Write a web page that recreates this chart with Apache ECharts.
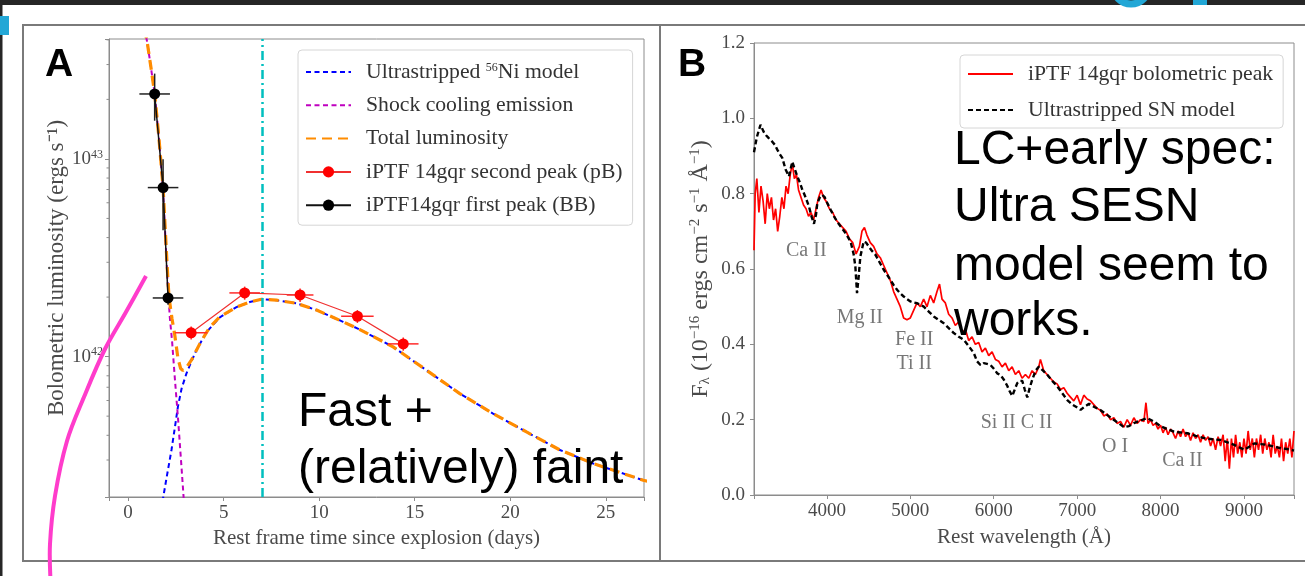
<!DOCTYPE html>
<html><head><meta charset="utf-8">
<script src="https://cdn.jsdelivr.net/npm/echarts@6/dist/echarts.min.js"></script>
<style>html,body{margin:0;padding:0;background:#fff;}#c{width:1305px;height:576px;}</style>
</head><body><div id="c"></div>
<script>
// ---------- Panel A: light curve ----------
const niT = [1.8, 2.0, 2.27, 2.45, 2.61, 2.8, 3.05, 3.3, 3.58, 4.1, 4.8, 5.67, 6.37, 6.98, 7.76, 8.81, 9.86, 11.25, 12.13, 13.87, 15.62, 17.36, 19.10, 20.85, 22.60, 24.34, 26.96, 27.2];
const niL = [1.85e41, 2.4e41, 3.37e41, 4.4e41, 5.6e41, 6.9e41, 8.2e41, 9.4e41, 1.08e42, 1.33e42, 1.58e42, 1.78e42, 1.89e42, 1.95e42, 1.93e42, 1.86e42, 1.72e42, 1.50e42, 1.37e42, 1.12e42, 8.53e41, 6.50e41, 5.15e41, 4.16e41, 3.37e41, 2.88e41, 2.37e41, 2.34e41];
const shockT = [0.85, 1.0, 1.2, 1.39, 1.6, 1.83, 2.05, 2.18, 2.3, 2.44, 2.61, 2.79, 2.92];
const shockL = [4.57e43, 3.89e43, 2.88e43, 2.14e43, 1.32e43, 6.95e42, 2.55e42, 1.59e42, 1.2e42, 7.9e41, 4.9e41, 2.8e41, 1.85e41];
const totalT = [0.85, 1.0, 1.2, 1.39, 1.6, 1.83, 2.05, 2.14, 2.3, 2.44, 2.61, 2.75, 2.87, 3.05, 3.31, 3.75, 4.27, 4.8, 5.67, 6.37, 6.98, 7.76, 8.81, 9.86, 11.25, 12.13, 13.87, 15.62, 17.36, 19.10, 20.85, 22.60, 24.34, 26.96, 27.2];
const totalL = [4.57e43, 3.89e43, 2.88e43, 2.14e43, 1.32e43, 7.16e42, 2.8e42, 2.0e42, 1.55e42, 1.29e42, 9.77e41, 8.71e41, 8.51e41, 8.81e41, 9.59e41, 1.16e42, 1.41e42, 1.59e42, 1.78e42, 1.89e42, 1.95e42, 1.93e42, 1.86e42, 1.72e42, 1.50e42, 1.37e42, 1.12e42, 8.53e41, 6.50e41, 5.15e41, 4.16e41, 3.37e41, 2.88e41, 2.37e41, 2.34e41];
const secondT = [3.3, 6.1, 9.0, 12.0, 14.4];
const secondL = [1.32e42, 2.10e42, 2.05e42, 1.60e42, 1.16e42];
const secondTErr = [0.85, 0.8, 0.7, 0.85, 0.8];
const secondLErr = [0.1e42, 0.16e42, 0.16e42, 0.12e42, 0.09e42];
const firstT = [1.39, 1.83, 2.09];
const firstL = [2.13e43, 7.16e42, 1.98e42];
const firstTErr = [0.8, 0.8, 0.8];
const firstLErr = [0.57e43, 2.8e42, 0.15e42];
const markerDay = [7.0];
const minorTickVals = [3e41, 4e41, 5e41, 6e41, 7e41, 8e41, 9e41, 2e42, 3e42, 4e42, 5e42, 6e42, 7e42, 8e42, 9e42, 2e43, 3e43, 4e43];

// ---------- Panel B: spectrum ----------
const specWave = [3126,3140,3160,3185,3210,3235,3260,3285,3310,3335,3360,3385,3410,3435,3460,3485,3510,3535,3560,3585,3610,3635,3660,3690,3720,3750,3780,3810,3840,3870,3900,3930,3960,3990,4030,4070,4110,4150,4190,4230,4270,4310,4350,4390,4420,4450,4480,4520,4560,4600,4640,4680,4720,4760,4800,4840,4880,4920,4960,5000,5040,5080,5120,5160,5200,5240,5280,5320,5350,5380,5420,5460,5500,5540,5580,5620,5660,5700,5740,5780,5820,5860,5900,5940,5980,6020,6060,6100,6140,6180,6220,6260,6300,6340,6380,6420,6460,6500,6540,6560,6600,6640,6680,6720,6760,6800,6840,6880,6920,6960,7000,7040,7080,7120,7160,7200,7240,7280,7320,7360,7400,7440,7480,7520,7560,7600,7640,7680,7720,7760,7800,7825,7850,7880,7910,7940,7970,8000,8030,8060,8090,8120,8150,8180,8210,8240,8270,8300,8330,8360,8390,8420,8450,8480,8510,8540,8570,8600,8630,8660,8690,8720,8750,8775,8800,8825,8850,8875,8900,8925,8950,8975,9000,9025,9050,9075,9100,9125,9150,9175,9200,9225,9250,9275,9300,9325,9350,9375,9400,9425,9450,9475,9500,9525,9550,9575,9600];
const specFlux = [0.65,0.80,0.84,0.75,0.82,0.78,0.72,0.80,0.76,0.79,0.73,0.76,0.70,0.74,0.79,0.76,0.82,0.80,0.85,0.88,0.84,0.85,0.81,0.79,0.77,0.76,0.74,0.75,0.73,0.76,0.79,0.81,0.79,0.78,0.76,0.75,0.73,0.72,0.71,0.70,0.68,0.67,0.64,0.66,0.70,0.71,0.69,0.67,0.66,0.64,0.63,0.61,0.59,0.57,0.54,0.52,0.50,0.47,0.465,0.47,0.49,0.51,0.50,0.52,0.50,0.53,0.51,0.54,0.56,0.52,0.51,0.48,0.47,0.45,0.46,0.43,0.44,0.41,0.42,0.40,0.405,0.38,0.39,0.37,0.38,0.36,0.355,0.34,0.35,0.33,0.34,0.32,0.33,0.31,0.32,0.31,0.33,0.32,0.34,0.36,0.33,0.32,0.31,0.30,0.295,0.28,0.285,0.27,0.26,0.25,0.265,0.24,0.265,0.255,0.25,0.24,0.23,0.225,0.21,0.215,0.20,0.205,0.19,0.195,0.18,0.20,0.185,0.205,0.19,0.20,0.195,0.245,0.19,0.20,0.185,0.19,0.175,0.185,0.165,0.18,0.16,0.175,0.165,0.15,0.17,0.155,0.175,0.155,0.165,0.145,0.165,0.15,0.16,0.14,0.16,0.145,0.155,0.13,0.15,0.12,0.155,0.13,0.16,0.09,0.15,0.07,0.15,0.10,0.16,0.11,0.14,0.10,0.15,0.11,0.17,0.12,0.15,0.10,0.15,0.12,0.16,0.11,0.15,0.12,0.14,0.10,0.16,0.11,0.13,0.10,0.15,0.09,0.14,0.11,0.15,0.10,0.17];
const modelWave = [3126,3160,3204,3240,3270,3300,3345,3375,3405,3435,3465,3505,3545,3585,3615,3645,3675,3705,3745,3785,3815,3845,3870,3885,3915,3945,3975,4005,4045,4085,4125,4165,4225,4285,4320,4341,4361,4381,4401,4441,4470,4501,4541,4581,4631,4681,4721,4761,4801,4841,4881,4921,4961,5001,5041,5081,5121,5161,5221,5281,5341,5401,5461,5521,5581,5641,5701,5761,5800,5841,5880,5920,5962,6002,6042,6082,6122,6162,6182,6222,6252,6282,6312,6342,6372,6402,6432,6462,6502,6542,6592,6642,6702,6762,6822,6882,6942,7002,7042,7092,7142,7212,7282,7362,7442,7502,7562,7622,7682,7762,7842,7922,8002,8082,8162,8242,8322,8422,8522,8622,8722,8802,8883,8950,9003,9063,9123,9203,9283,9363,9443,9520,9600];
const modelFlux = [0.91,0.95,0.983,0.965,0.955,0.948,0.938,0.93,0.917,0.905,0.895,0.864,0.846,0.885,0.865,0.846,0.83,0.811,0.79,0.766,0.74,0.72,0.745,0.775,0.79,0.797,0.79,0.775,0.757,0.740,0.725,0.713,0.695,0.672,0.64,0.607,0.536,0.580,0.633,0.673,0.67,0.660,0.648,0.638,0.618,0.598,0.585,0.571,0.557,0.545,0.535,0.527,0.52,0.514,0.511,0.509,0.505,0.500,0.487,0.474,0.465,0.456,0.443,0.430,0.42,0.412,0.395,0.377,0.355,0.345,0.35,0.348,0.345,0.335,0.323,0.318,0.306,0.29,0.279,0.263,0.28,0.297,0.303,0.303,0.28,0.259,0.285,0.306,0.33,0.341,0.33,0.319,0.303,0.288,0.27,0.252,0.24,0.232,0.226,0.235,0.242,0.233,0.225,0.212,0.199,0.19,0.18,0.183,0.191,0.198,0.204,0.195,0.182,0.175,0.168,0.166,0.164,0.157,0.151,0.148,0.146,0.14,0.133,0.126,0.120,0.128,0.137,0.135,0.133,0.128,0.124,0.122,0.118];
const lineIdNames = ['Ca II', 'Mg II', 'Fe II', 'Ti II', 'Si II C II', 'O I', 'Ca II'];
const lineIdWave = [3753, 4395, 5047, 5047, 6274, 7456, 8262];
const lineIdFlux = [0.648, 0.471, 0.412, 0.349, 0.191, 0.129, 0.090];

// ---------- styling ----------
const SERIF = 'Liberation Serif';
const AXC = '#8c8c8c';
const TXT = '#4a4a4a';
const NI = 'Ultrastripped 56Ni model';
const SHOCK = 'Shock cooling emission';
const TOTAL = 'Total luminosity';
const SECOND = 'iPTF 14gqr second peak (pB)';
const FIRST = 'iPTF14gqr first peak (BB)';
const OBS = 'iPTF 14gqr bolometric peak';
const MODEL = 'Ultrastripped SN model';

const zip = (a, b) => a.map((v, i) => [v, b[i]]);

function errRender(color) {
  return function (params, api) {
    const x = api.value(0), y = api.value(1), xe = api.value(2), ye = api.value(3);
    const a = api.coord([x - xe, y]), b = api.coord([x + xe, y]);
    const c = api.coord([x, y - ye]), d = api.coord([x, y + ye]);
    return { type: 'group', children: [
      { type: 'line', shape: { x1: a[0], y1: a[1], x2: b[0], y2: b[1] }, style: { stroke: color, lineWidth: 1.5 } },
      { type: 'line', shape: { x1: c[0], y1: c[1], x2: d[0], y2: d[1] }, style: { stroke: color, lineWidth: 1.5 } }
    ] };
  };
}

const axisCommon = {
  axisLine: { show: true, onZero: false, lineStyle: { color: AXC, width: 1 } },
  axisTick: { show: true, inside: false, length: 4, lineStyle: { color: AXC } },
  splitLine: { show: false },
  nameLocation: 'middle',
  nameTextStyle: { fontFamily: SERIF, fontSize: 21, color: TXT }
};
const noSym = { opacity: 0 };

const chart = echarts.init(document.getElementById('c'));
chart.setOption({
  animation: false,
  backgroundColor: '#ffffff',
  grid: [
    { left: 109, top: 39, width: 535, height: 458, show: true, borderColor: AXC, borderWidth: 1 },
    { left: 754, top: 43, width: 540, height: 452, show: true, borderColor: AXC, borderWidth: 1 }
  ],
  xAxis: [
    Object.assign({}, axisCommon, {
      gridIndex: 0, type: 'value', min: -1, max: 27, splitNumber: 5,
      name: 'Rest frame time since explosion (days)', nameGap: 30,
      axisLabel: { fontFamily: SERIF, fontSize: 19, color: TXT, margin: 7,
        formatter: v => (Math.abs(v % 5) < 1e-9 ? String(v) : '') }
    }),
    Object.assign({}, axisCommon, {
      gridIndex: 1, type: 'value', min: 3126, max: 9600, splitNumber: 5,
      name: 'Rest wavelength (Å)', nameGap: 32,
      axisLabel: { fontFamily: SERIF, fontSize: 19, color: TXT, margin: 7,
        formatter: v => (Math.abs(v % 1000) < 1e-9 ? String(v) : '') }
    })
  ],
  yAxis: [
    Object.assign({}, axisCommon, {
      gridIndex: 0, type: 'log', logBase: 10, min: 1.95e41, max: 4.04e43,
      name: 'Bolometric luminosity (ergs s⁻¹)', nameGap: 41,
      nameTextStyle: { fontFamily: SERIF, fontSize: 23, color: TXT },
      axisLabel: { fontFamily: SERIF, fontSize: 19, color: TXT, margin: 6,
        formatter: v => { const l = Math.log10(v), r = Math.round(l); return Math.abs(l - r) < 1e-6 ? '10{sup|' + r + '}' : ''; },
        rich: { sup: { fontFamily: SERIF, fontSize: 12, color: TXT, padding: [0, 0, 9, 0] } } }
    }),
    Object.assign({}, axisCommon, {
      gridIndex: 1, type: 'value', min: 0, max: 1.2, interval: 0.2,
      name: 'F{sub|λ} (10{sup|−16} ergs cm{sup|−2} s{sup|−1} Å{sup|−1})', nameGap: 40,
      nameTextStyle: { fontFamily: SERIF, fontSize: 24, color: TXT,
        rich: { sub: { fontFamily: SERIF, fontSize: 15, color: TXT, padding: [9, 0, 0, 0] },
                sup: { fontFamily: SERIF, fontSize: 15, color: TXT, padding: [0, 0, 11, 0] } } },
      axisLabel: { fontFamily: SERIF, fontSize: 19, color: TXT, margin: 9, formatter: v => v.toFixed(1) }
    })
  ],
  legend: [
    { orient: 'vertical', left: 298, top: 50, padding: [11, 10, 9, 7], itemGap: 11.3,
      itemWidth: 45, itemHeight: 14, selectedMode: false,
      backgroundColor: 'rgba(255,255,255,0.85)', borderColor: '#d6d6d6', borderWidth: 1, borderRadius: 4,
      data: [{ name: NI, itemStyle: noSym }, { name: SHOCK, itemStyle: noSym }, { name: TOTAL, itemStyle: noSym }, SECOND, FIRST],
      formatter: n => (n === NI ? 'Ultrastripped {sup|56}Ni model' : n),
      textStyle: { fontFamily: SERIF, fontSize: 21.7, color: '#333', padding: [0, 0, 0, 10],
        rich: { sup: { fontFamily: SERIF, fontSize: 12, color: '#333', padding: [0, 0, 9, 0] } } } },
    { orient: 'vertical', left: 960, top: 55, padding: [8, 10, 7, 7], itemGap: 14,
      itemWidth: 45, itemHeight: 14, selectedMode: false,
      backgroundColor: 'rgba(255,255,255,0.85)', borderColor: '#d6d6d6', borderWidth: 1, borderRadius: 4,
      data: [{ name: OBS, itemStyle: noSym }, { name: MODEL, itemStyle: noSym }],
      textStyle: { fontFamily: SERIF, fontSize: 21.7, color: '#333', padding: [0, 0, 0, 10] } }
  ],
  series: [
    { name: NI, type: 'line', xAxisIndex: 0, yAxisIndex: 0, symbol: 'none', data: zip(niT, niL),
      lineStyle: { color: '#0000ff', width: 2, type: [5, 3.5] }, itemStyle: { color: '#0000ff' }, z: 2 },
    { name: SHOCK, type: 'line', xAxisIndex: 0, yAxisIndex: 0, symbol: 'none', data: zip(shockT, shockL),
      lineStyle: { color: '#bf00bf', width: 2, type: [5, 3.5] }, itemStyle: { color: '#bf00bf' }, z: 2 },
    { name: TOTAL, type: 'line', xAxisIndex: 0, yAxisIndex: 0, symbol: 'none', data: zip(totalT, totalL),
      lineStyle: { color: '#ff8c00', width: 3.2, type: [10, 6] }, itemStyle: { color: '#ff8c00' }, z: 3,
      markLine: { silent: true, symbol: ['none', 'none'], label: { show: false },
        lineStyle: { color: '#00bfbf', width: 2.5, type: [9, 4, 2, 4] },
        data: markerDay.map(d => ({ xAxis: d })) } },
    { name: 'secondErr', type: 'custom', xAxisIndex: 0, yAxisIndex: 0, renderItem: errRender('#ff2a2a'),
      encode: { x: 0, y: 1 }, data: secondT.map((t, i) => [t, secondL[i], secondTErr[i], secondLErr[i]]), z: 4 },
    { name: 'firstErr', type: 'custom', xAxisIndex: 0, yAxisIndex: 0, renderItem: errRender('#222'),
      encode: { x: 0, y: 1 }, data: firstT.map((t, i) => [t, firstL[i], firstTErr[i], firstLErr[i]]), z: 4 },
    { name: SECOND, type: 'line', xAxisIndex: 0, yAxisIndex: 0, symbol: 'circle', symbolSize: 11,
      data: zip(secondT, secondL), lineStyle: { color: '#f03030', width: 1.2 }, itemStyle: { color: '#ff0000' }, z: 5 },
    { name: FIRST, type: 'line', xAxisIndex: 0, yAxisIndex: 0, symbol: 'circle', symbolSize: 11,
      data: zip(firstT, firstL), lineStyle: { color: '#111', width: 1.5 }, itemStyle: { color: '#000' }, z: 5 },
    { name: 'minorTicks', type: 'custom', xAxisIndex: 0, yAxisIndex: 0, clip: false, silent: true,
      encode: { x: 0, y: 1 }, data: minorTickVals.map(v => [-1, v]),
      renderItem: (p, api) => { const c = api.coord([api.value(0), api.value(1)]);
        return { type: 'line', shape: { x1: c[0], y1: c[1], x2: c[0] - 2.5, y2: c[1] }, style: { stroke: AXC, lineWidth: 1 } }; } },

    { name: OBS, type: 'line', xAxisIndex: 1, yAxisIndex: 1, symbol: 'none', data: zip(specWave, specFlux),
      lineStyle: { color: '#ff0000', width: 1.7 }, itemStyle: { color: '#ff0000' }, z: 2 },
    { name: MODEL, type: 'line', xAxisIndex: 1, yAxisIndex: 1, symbol: 'none', data: zip(modelWave, modelFlux),
      lineStyle: { color: '#000', width: 2.4, type: [5, 3] }, itemStyle: { color: '#000' }, z: 3 },
    { name: 'lineIds', type: 'scatter', xAxisIndex: 1, yAxisIndex: 1, symbolSize: 0, silent: true,
      data: lineIdNames.map((n, i) => ({ name: n, value: [lineIdWave[i], lineIdFlux[i]] })),
      label: { show: true, position: 'inside', formatter: p => p.name, fontFamily: SERIF, fontSize: 20, color: '#555' } }
  ],
  graphic: [
    { type: 'rect', shape: { x: 0, y: 0, width: 1305, height: 5 }, style: { fill: '#262626' }, z: 100 },
    { type: 'rect', shape: { x: 0, y: 0, width: 2.5, height: 576 }, style: { fill: '#262626' }, z: 100 },
    { type: 'rect', shape: { x: 0, y: 16, width: 9, height: 19 }, style: { fill: '#22a7d6' }, z: 101 },
    { type: 'arc', shape: { cx: 1131, cy: -14, r: 18, startAngle: 0, endAngle: Math.PI }, style: { stroke: '#22a7d6', lineWidth: 7, fill: 'none' }, z: 101 },
    { type: 'rect', shape: { x: 1193, y: 0, width: 14, height: 5 }, style: { fill: '#22a7d6' }, z: 101 },
    { type: 'rect', shape: { x: 23, y: 25, width: 1300, height: 536 }, style: { fill: 'none', stroke: '#7a7a7a', lineWidth: 2 }, z: 90 },
    { type: 'line', shape: { x1: 660, y1: 25, x2: 660, y2: 561 }, style: { stroke: '#7a7a7a', lineWidth: 2 }, z: 90 },
    { type: 'text', x: 59, y: 65, style: { text: 'A', font: 'bold 39px "Liberation Sans"', fill: '#000', align: 'center', verticalAlign: 'middle' }, z: 110 },
    { type: 'text', x: 692, y: 65, style: { text: 'B', font: 'bold 39px "Liberation Sans"', fill: '#000', align: 'center', verticalAlign: 'middle' }, z: 110 },
    { type: 'text', x: 298, y: 413, style: { text: 'Fast +', font: '48px "Liberation Sans"', fill: '#000', align: 'left', verticalAlign: 'middle' }, z: 110 },
    { type: 'text', x: 298, y: 470, style: { text: '(relatively) faint', font: '48px "Liberation Sans"', fill: '#000', align: 'left', verticalAlign: 'middle' }, z: 110 },
    { type: 'text', x: 954, y: 151, style: { text: 'LC+early spec:', font: '48px "Liberation Sans"', fill: '#000', align: 'left', verticalAlign: 'middle' }, z: 110 },
    { type: 'text', x: 954, y: 208, style: { text: 'Ultra SESN', font: '48px "Liberation Sans"', fill: '#000', align: 'left', verticalAlign: 'middle' }, z: 110 },
    { type: 'text', x: 954, y: 267, style: { text: 'model seem to', font: '48px "Liberation Sans"', fill: '#000', align: 'left', verticalAlign: 'middle' }, z: 110 },
    { type: 'text', x: 954, y: 322, style: { text: 'works.', font: '48px "Liberation Sans"', fill: '#000', align: 'left', verticalAlign: 'middle' }, z: 110 },
    { type: 'polyline', shape: { points: [[146, 276], [126, 312], [105, 349], [84, 397], [67, 441], [55, 496], [50, 544], [50.5, 580]], smooth: 0.35 },
      style: { stroke: '#ff3ccb', lineWidth: 4, fill: 'none' }, z: 105 }
  ]
});
</script></body></html>
